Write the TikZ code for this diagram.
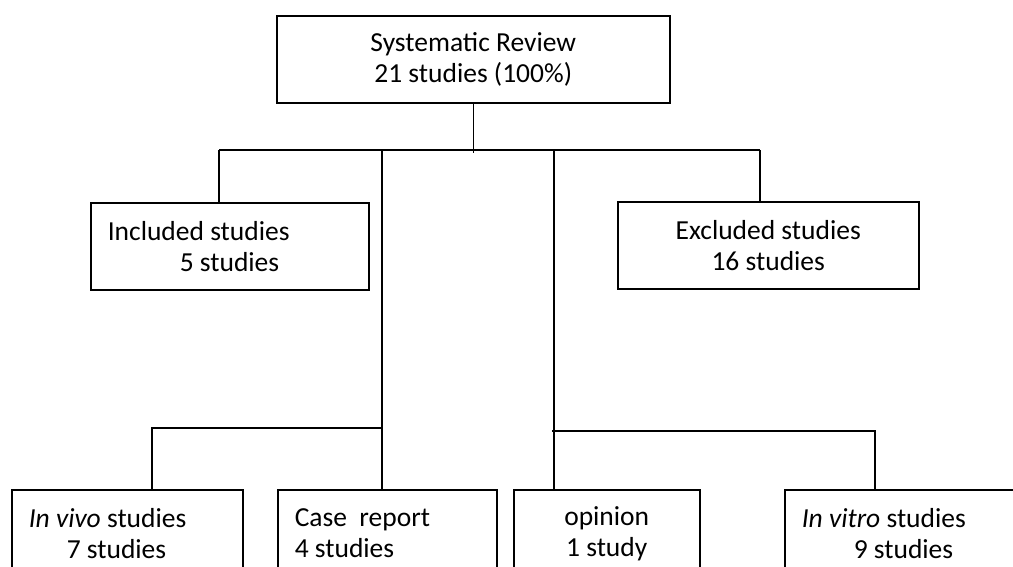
\documentclass[tikz,border=0pt]{standalone}
\usepackage{fontspec}
\setmainfont{Carlito}
\usepackage{tikz}
\usetikzlibrary{positioning, calc}

\begin{document}
\begin{tikzpicture}[
  x=1pt, y=-1pt,
  every node/.style={font=\fontsize{27.5}{31}\selectfont},
  box/.style={
    rectangle, draw, line width=1.5pt,
    minimum height=87pt, inner ysep=0pt,
    anchor=north west, align=center,
  },
  leftbox/.style={
    box, align=flush left, inner xsep=17pt,
  },
  link/.style={line width=1.5pt},
]
  \path[use as bounding box, clip] (0,0) rectangle (1013,566);

  % Top box
  \node[box, minimum width=393pt] (review) at (276,15) {Systematic Review\\21 studies (100\%)};

  % Middle row
  \node[leftbox, text width=244pt] (incl) at (90,202) {Included studies\\\hspace*{72pt}5 studies};
  \node[box, minimum width=301pt] (excl) at (617,201) {Excluded studies\\16 studies};

  % Bottom row
  \node[leftbox, text width=197pt] (invivo) at (11,489) {\textit{In vivo} studies\\\hspace*{38pt}7 studies};
  \node[leftbox, text width=185pt] (caserep) at (277,489) {Case\ \ report\\4 studies};
  \node[box, minimum width=186pt] (opinion) at (513,489) {opinion\\1 study};
  \node[leftbox, text width=212pt] (invitro) at (784,489) {\textit{In vitro} studies\\\hspace*{52pt}9 studies};

  % Connectors: review -> first split
  \draw[link] (review.south) -- ++(0,49) coordinate (split);
  \coordinate (barL) at (219,150);
  \coordinate (barR) at (760,150);
  \coordinate (trunkL) at (382,150);
  \coordinate (trunkR) at (554,150);
  \draw[link] (barL) -- (barR);
  \draw[link] (barL) -- (barL |- incl.north);
  \draw[link] (barR) -- (barR |- excl.north);

  % Left trunk -> in vivo, case report
  \coordinate (forkL) at (382,428);
  \coordinate (vivoTop) at (152,428);
  \draw[link] (trunkL) -- (trunkL |- caserep.north);
  \draw[link] (forkL) -- (vivoTop) -- (vivoTop |- invivo.north);

  % Right trunk -> opinion, in vitro
  \coordinate (forkR) at (552,431);
  \coordinate (vitroTop) at (875,431);
  \draw[link] (trunkR) -- (trunkR |- opinion.north);
  \draw[link] (forkR) -- (vitroTop) -- (vitroTop |- invitro.north);

\end{tikzpicture}
\end{document}
